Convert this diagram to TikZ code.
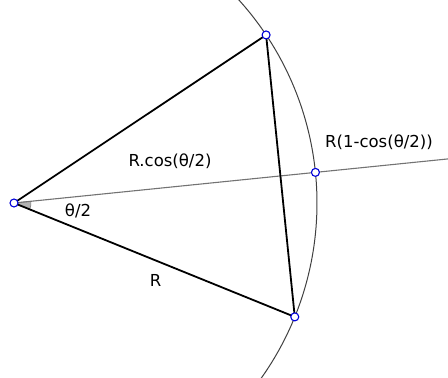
\documentclass[tikz,border=0pt]{standalone}
\usepackage{fontspec}
\setmainfont{DejaVu Sans}
\usepackage{tikz}
\usetikzlibrary{positioning}

\begin{document}
\begin{tikzpicture}[x=1pt, y=1pt,
    pt/.style={draw=blue!85!black, fill=white, circle, inner sep=0pt, minimum size=8pt, line width=1.1pt},
    chord/.style={line width=1.8pt},
    axis/.style={line width=1.1pt, black!55},
    lbl/.style={font=\fontsize{16.5}{19}\selectfont, inner sep=0pt},
]
\useasboundingbox (-14,-175) rectangle (434,203);
\clip (-14,-175) rectangle (434,203);

% points on the circle
\coordinate (O) at (0,0);
\coordinate (A) at (33.69:303);
\coordinate (B) at (-22.08:303);
\coordinate (M) at (5.8:303);
\coordinate (E) at (5.8:460);

% angle mark
\filldraw[fill=black!30, draw=black!50, line width=0.6pt] (O) -- (-22.08:17) arc (-22.08:5.8:17) -- cycle;

% arc of the circle
\draw[line width=1pt, black!75] (42.1:303) arc (42.1:-36:303);

\draw[axis] (O) -- (E);
\draw[chord] (O) -- (A);
\draw[chord] (O) -- (B);
\draw[chord] (A) -- (B);

\node[pt] (o) at (O) {};
\node[pt] (a) at (A) {};
\node[pt] (b) at (B) {};
\node[pt] (m) at (M) {};

\node[lbl] (rcos) at (156,42) {R.cos(θ/2)};
\node[lbl] (rdiff) at (365,61) {R(1-cos(θ/2))};
\node[lbl] (half) at (64,-8) {θ/2};
\node[lbl] (rad) at (141.5,-77.5) {R};
\end{tikzpicture}
\end{document}
